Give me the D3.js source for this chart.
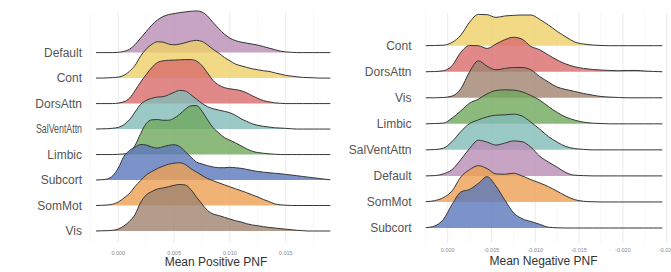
<!DOCTYPE html>
<html><head><meta charset="utf-8">
<script src="https://cdn.jsdelivr.net/npm/d3@7"></script>
<style>body{margin:0;background:#fff} svg{display:block}</style>
</head><body>
<svg id="c" width="671" height="272"></svg>
<script>
// ---------- Left panel: Mean Positive PNF ----------
const posCategories = ["Default","Cont","DorsAttn","SalVentAttn","Limbic","Subcort","SomMot","Vis"];
const posGrid = [-0.002,-0.0015,-0.001,-0.0005,0,0.0005,0.001,0.0015,0.002,0.0025,0.003,0.0035,0.004,0.0045,0.005,0.0055,0.006,0.0065,0.007,0.0075,0.008,0.0085,0.009,0.0095,0.01,0.0105,0.011,0.0115,0.012,0.0125,0.013,0.0135,0.014,0.0145,0.015,0.0155,0.016,0.0165,0.017,0.0175,0.018,0.0185,0.019];
const posDefault = [0,0,0,0,0.3,1.2,3.3,8,14.5,21,27.5,32.5,36,38,39,40,40.7,41.3,41.7,40.5,36.5,30,24,18.5,14.5,12,10.5,9.5,8.5,7.5,6,4.5,3,1.5,0.7,0.3,0,0,0,0,0,0,0];
const posCont = [0,0,0.2,0.5,1,2.7,6.7,12.7,22,29,33.7,36.3,36,34,33.3,34,35.3,37,37.7,36.7,33,28.7,25,20.7,17.3,14,12.3,10.7,9.3,8.3,7.3,6.7,5.3,4,2.7,2,1.3,0.7,0.5,0.3,0,0,0];
const posDorsAttn = [0,0,0,0,0.5,1.8,5.3,13,21.5,29,36,41,42.7,43.3,43.5,43.7,44,44,42.5,38,30.5,23,18.5,16,14.7,14,12.8,10.7,7.8,5.2,3,1.7,0.7,0.3,0,0,0,0,0,0,0,0,0];
const posSalVentAttn = [0,0.2,0.3,0.8,1.7,4.3,9.3,17,24.7,28.7,30.7,32,32.3,34.3,36.7,38.7,38,34.3,30,25.7,22.3,20.3,19,17.7,16.3,13.7,10.3,7.7,5.3,3.7,2.7,2,1.3,1,0.7,0.3,0,0,0,0,0,0,0];
const posLimbic = [0,0,0,0,0.2,0.6,1.5,9,21,31,34.7,35,34.3,34.3,36.3,40.3,45.3,48.7,49,43.3,34.7,26.7,21.7,17,14.3,11.7,8.7,5.7,3.3,2,1.3,0.7,0.3,0,0,0,0,0,0,0,0,0,0];
const posSubcort = [0,0.3,1,4.2,12,23.5,29.5,33,35.5,35,33,32,33.3,34.7,35.3,33.5,28.5,23,18,16,14.3,13,12.3,12.3,12.7,12.3,11.7,10.7,9.5,8.5,7.9,7.3,6.8,6.3,5.6,5,4.3,3.6,2.9,2.2,1.5,0.8,0.3];
const posSomMot = [0,0.2,0.5,1.3,3.5,7.5,12,19,25,30.5,34,37,39.3,41.3,42.3,42.7,41,36.8,33.5,30,27,24.8,22.7,20.7,18.7,16.8,14.8,12.8,10.6,8.5,6,4,1.7,0.7,0.3,0,0,0,0,0,0,0,0];
const posVis = [0,0.2,0.3,0.7,2,5,9.7,16.5,28.5,36,39.5,42,43,44.3,45.7,46.5,46,41.5,34,27,20.5,17,15.5,13.7,12,10.3,9,7.3,6,5.3,4.3,3.6,3,2.4,1.8,1.3,0.7,0.3,0,0,0,0,0];
const posTicks = [0, 0.005, 0.010, 0.015];
const posTickLabels = ["0.000","0.005","0.010","0.015"];
const posGridLines = [-0.0025,0,0.0025,0.005,0.0075,0.01,0.0125,0.015,0.0175];

// ---------- Right panel: Mean Negative PNF ----------
const negCategories = ["Cont","DorsAttn","Vis","Limbic","SalVentAttn","Default","SomMot","Subcort"];
const negGrid = [0.0025,0.0015,0.0005,-0.0005,-0.0015,-0.0025,-0.0035,-0.0045,-0.0055,-0.0065,-0.0075,-0.0085,-0.0095,-0.0105,-0.0115,-0.0125,-0.0135,-0.0145,-0.0155,-0.0165,-0.0175,-0.0185,-0.0195,-0.0205,-0.0215,-0.0225,-0.0235,-0.0245];
const negCont = [0,0.2,0.5,3.3,10.5,23.5,31.3,31,28.3,29.7,30.3,30.7,30.7,26.3,20.7,14.3,8.7,3.7,1.7,0.7,0.2,0,0,0,0,0,0,0];
const negDorsAttn = [0,0.2,1,6,19.5,26.3,26,23.3,27.7,32,34.5,32.5,25.3,22,16.7,11.7,7.7,5,3.3,2.3,1.7,1.3,1,1.3,1.3,0.7,0.3,0];
const negVis = [0,0,0.3,1.7,9,26,37,31.5,28,29.3,30.3,30.3,28,21.3,15.7,10.7,8.3,6.3,4.3,2.7,1.3,0.7,0.3,0,0,0,0,0];
const negLimbic = [0,0.3,0.7,5.7,13,20.7,24.7,30,33.3,34,33.7,32,28.3,23.7,17.3,11.3,6.7,3.7,1.7,0.7,0.3,0,0,0,0,0,0,0];
const negSalVentAttn = [0,0.3,1.7,8.3,18.3,26.3,30,33,34.7,35,35.7,33.7,27.7,20.7,13.3,7.7,3.3,1.3,0.5,0,0,0,0,0,0,0,0,0];
const negDefault = [0,0.3,2,6.3,16.3,27.5,35.7,33.8,30.8,32.8,35,34.2,28.7,19.7,13.8,8.7,3.3,0.7,0.3,0,0,0,0,0,0,0,0,0];
const negSomMot = [0.3,1.3,4.3,11,25,32.3,36.3,33.3,28,27.7,28.7,26,22.3,19,15.3,10.7,6,2.3,0.7,0.2,0,0,0,0,0,0,0,0];
const negSubcort = [0.3,2,8.5,23.5,36,38.6,44.6,51.3,42,28.3,15.3,9.3,6.5,3.7,0.8,0.2,0,0,0,0,0,0,0,0,0,0,0,0];
const negTicks = [0,-0.005,-0.010,-0.015,-0.020,-0.025];
const negTickLabels = ["0.000","-0.005","-0.010","-0.015","-0.020","-0.025"];
const negGridLines = [0.0025,0,-0.0025,-0.005,-0.0075,-0.01,-0.0125,-0.015,-0.0175,-0.02,-0.0225,-0.025];

const networkColors = {
  Default:"#b98cb5", Cont:"#edcf66", DorsAttn:"#d96a6a", SalVentAttn:"#82bcb7",
  Limbic:"#6fa95c", Subcort:"#5b78bc", SomMot:"#eda052", Vis:"#a0836f"
};

const svg = d3.select("#c");
const FONT = "'Liberation Sans', Arial, sans-serif";

function drawPanel(cfg){
  const g = svg.append("g");
  const x = d3.scaleLinear().domain(cfg.xDomain).range(cfg.xRange);
  const yb = d3.scalePoint().domain(cfg.categories).range(cfg.yRange);
  const h = d3.scaleLinear().domain([0, 50]).range([0, 50]);

  // vertical grid
  g.selectAll("line.grid").data(cfg.gridLines).enter().append("line")
    .attr("x1", d=>x(d)).attr("x2", d=>x(d))
    .attr("y1", cfg.gridTop).attr("y2", cfg.gridBottom)
    .attr("stroke", d => cfg.ticks.some(t=>Math.abs(t-d)<1e-9) ? "#ebebeb" : "#f3f3f3")
    .attr("stroke-width", d => cfg.ticks.some(t=>Math.abs(t-d)<1e-9) ? 1 : 0.7);

  // ridges, top row first so lower rows overlap
  cfg.categories.forEach((cat) => {
    const vals = cfg.series[cat];
    const pts = cfg.grid.map((gx, j) => ({x: gx, d: vals[j]}));
    const base = yb(cat);
    const area = d3.area().x(d=>x(d.x)).y0(base).y1(d=>base - h(d.d)).curve(d3.curveMonotoneX);
    const line = d3.line().x(d=>x(d.x)).y(d=>base - h(d.d)).curve(d3.curveMonotoneX);
    g.append("path").attr("d", area(pts)).attr("fill", networkColors[cat]).attr("fill-opacity", 0.8);
    g.append("path").attr("d", line(pts)).attr("fill", "none").attr("stroke", "#363636").attr("stroke-width", 1);
  });

  // category labels
  g.selectAll("text.cat").data(cfg.categories).enter().append("text")
    .attr("x", cfg.labelX).attr("y", d=>yb(d)).attr("dy", "0.36em")
    .attr("text-anchor", "end").attr("font-family", FONT).attr("font-size", 12)
    .attr("fill", "#555")
    .each(function(d){
      if (cfg.squeeze && cfg.squeeze[d]) {
        d3.select(this).attr("textLength", cfg.squeeze[d]).attr("lengthAdjust", "spacingAndGlyphs");
      }
    })
    .text(d=>d);

  // tick labels
  g.selectAll("text.tick").data(cfg.ticks).enter().append("text")
    .attr("x", d=>x(d)).attr("y", cfg.tickY)
    .attr("text-anchor", "middle").attr("font-family", FONT).attr("font-size", 5.5)
    .attr("fill", "#8a8a8a").text((d,i)=>cfg.tickLabels[i]);

  // axis title
  g.append("text").attr("x", cfg.titleX).attr("y", cfg.titleY)
    .attr("text-anchor", "middle").attr("font-family", FONT).attr("font-size", 12)
    .attr("fill", "#333").text(cfg.title);
}

drawPanel({
  categories: posCategories, grid: posGrid,
  series: {Default:posDefault, Cont:posCont, DorsAttn:posDorsAttn, SalVentAttn:posSalVentAttn,
           Limbic:posLimbic, Subcort:posSubcort, SomMot:posSomMot, Vis:posVis},
  xDomain: [0, 0.015], xRange: [118.3, 285.7], yRange: [52.6, 231],
  gridLines: posGridLines, ticks: posTicks, tickLabels: posTickLabels,
  gridTop: 12, gridBottom: 243, labelX: 82, tickY: 254.6,
  squeeze: {SalVentAttn: 46},
  title: "Mean Positive PNF", titleX: 216, titleY: 266
});

drawPanel({
  categories: negCategories, grid: negGrid,
  series: {Cont:negCont, DorsAttn:negDorsAttn, Vis:negVis, Limbic:negLimbic,
           SalVentAttn:negSalVentAttn, Default:negDefault, SomMot:negSomMot, Subcort:negSubcort},
  xDomain: [0, -0.025], xRange: [447.7, 666.7], yRange: [45.7, 228],
  gridLines: negGridLines, ticks: negTicks, tickLabels: negTickLabels,
  gridTop: 13, gridBottom: 243, labelX: 411.5, tickY: 252.3,
  title: "Mean Negative PNF", titleX: 543.5, titleY: 264.5
});
</script>
</body></html>
